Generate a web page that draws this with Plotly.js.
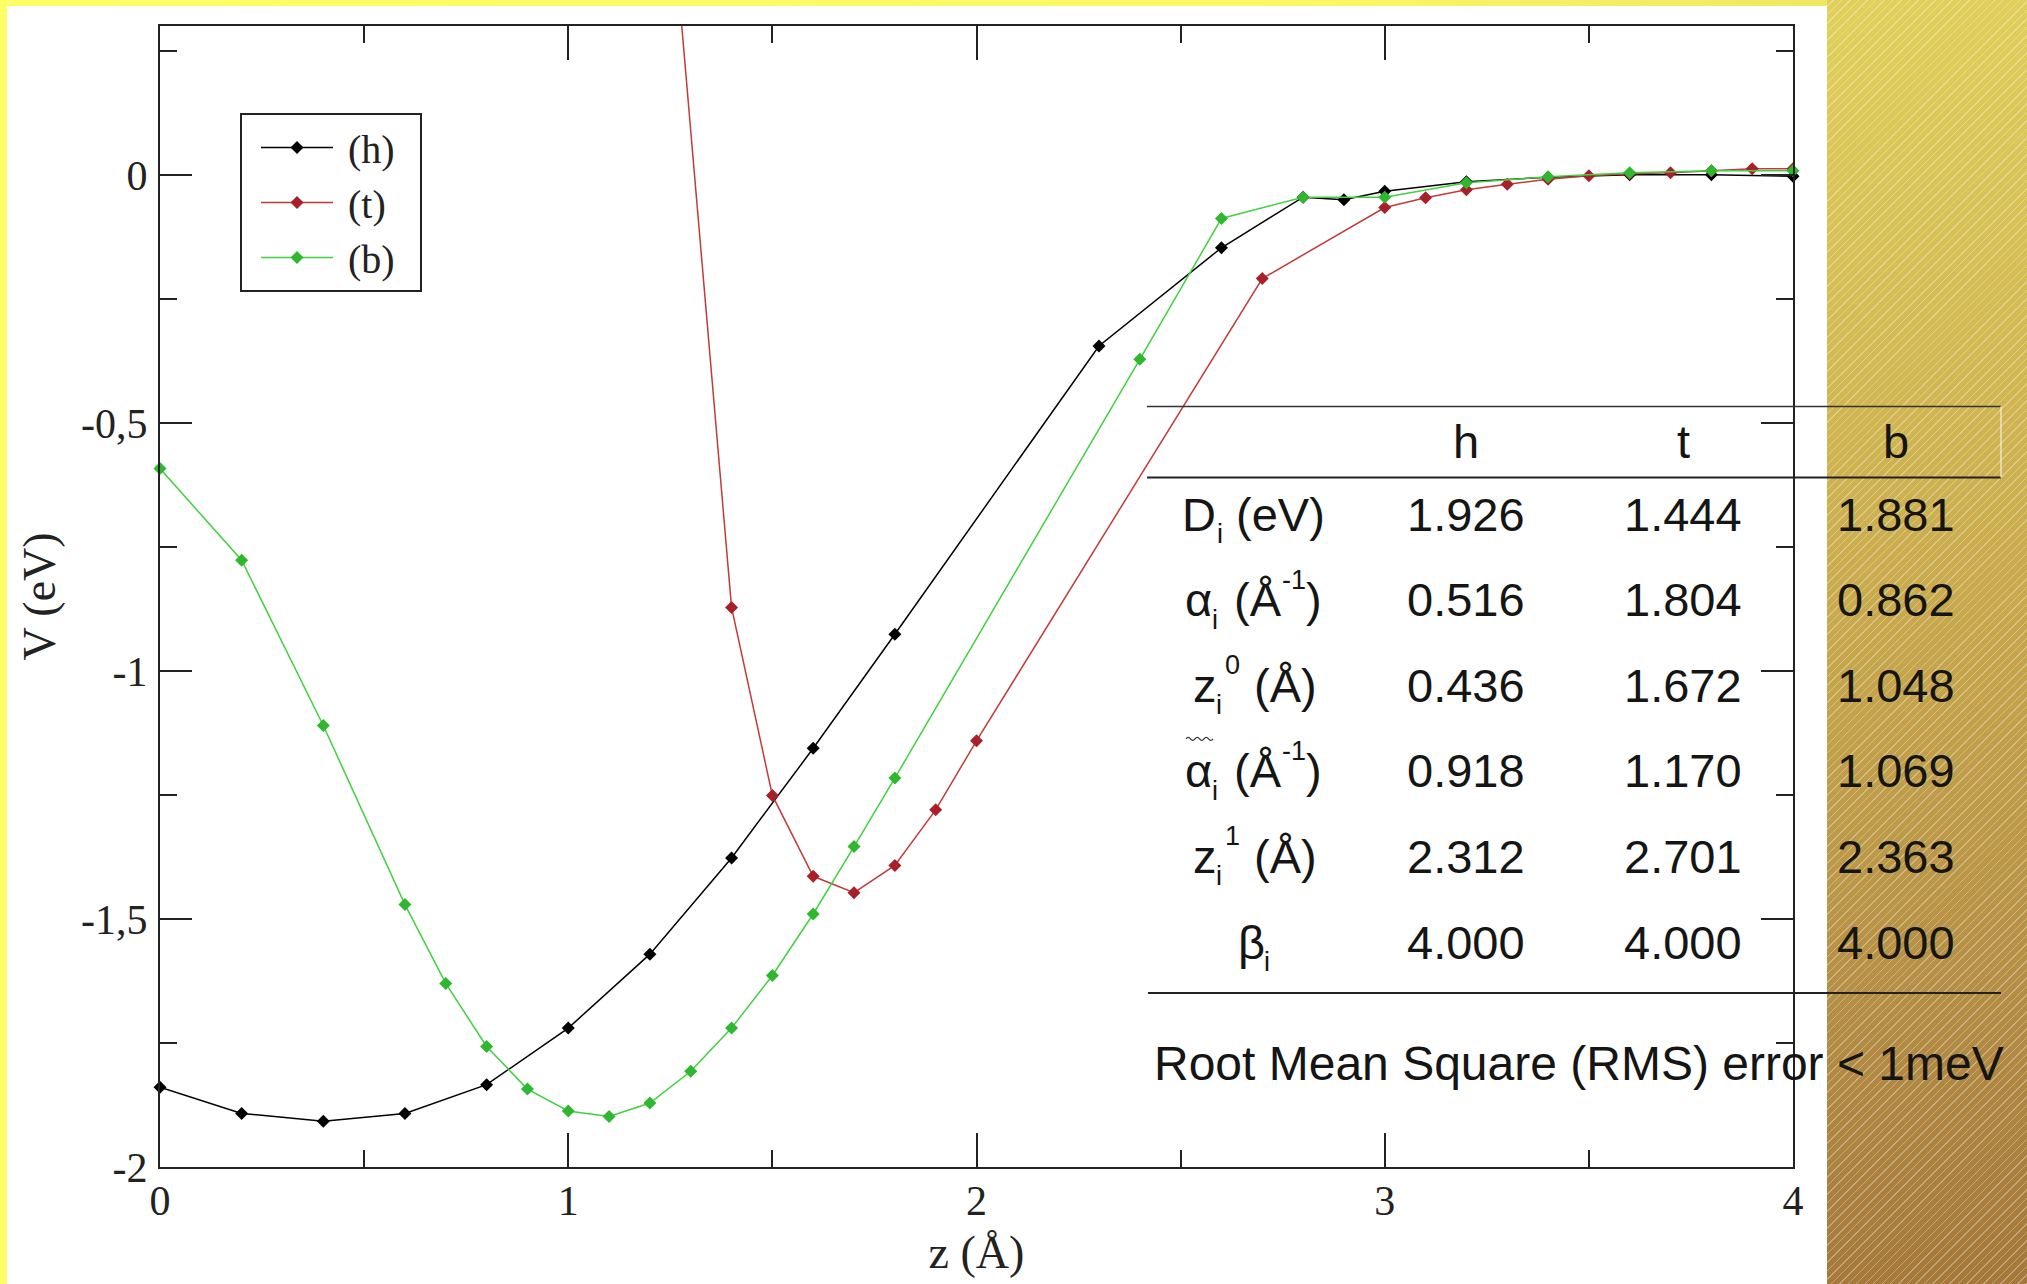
<!DOCTYPE html>
<html>
<head>
<meta charset="utf-8">
<script src="https://cdn.plot.ly/plotly-3.0.1.min.js"></script>
<style>
  html, body { margin:0; padding:0; }
  body {
    width:2027px; height:1284px; overflow:hidden; position:relative;
    background:
      repeating-linear-gradient(135deg, rgba(255,255,255,0.32) 0px, rgba(255,255,255,0.32) 1px, rgba(255,255,255,0) 1px, rgba(255,255,255,0) 6px),
      linear-gradient(172deg, #ebe162 0%, #dcc859 25%, #c9aa4d 55%, #b58f45 80%, #a5773a 100%);
  }
  #yellow { position:absolute; left:0; top:0; width:1827px; height:1284px;
            background:linear-gradient(to right, #ffff66 0%, #fbf866 70%, #f0e762 100%); }
  #white  { position:absolute; left:7px; top:6px; width:1820px; height:1278px; background:#ffffff; }
  #chart  { position:absolute; left:0; top:0; width:2027px; height:1284px; }
</style>
</head>
<body>
<div id="yellow"></div>
<div id="white"></div>
<div id="chart"></div>
<script>
// ---------- data ----------
const seriesNames = ['\u00a0(h)\u00a0\u00a0', '\u00a0(t)\u00a0\u00a0', '\u00a0(b)\u00a0\u00a0'];

const zH = [0, 0.2, 0.4, 0.6, 0.8, 1.0, 1.2, 1.4, 1.6, 1.8, 2.3, 2.6, 2.8, 2.9, 3.0, 3.2, 3.4, 3.6, 3.8, 4.0];
const vH = [-1.839, -1.892, -1.908, -1.892, -1.834, -1.720, -1.571, -1.377, -1.156, -0.926, -0.345, -0.147, -0.045, -0.050, -0.033, -0.014, -0.005, 0.000, 0.000, -0.003];

const zT = [1.2, 1.4, 1.5, 1.6, 1.7, 1.8, 1.9, 2.0, 2.7, 3.0, 3.1, 3.2, 3.3, 3.4, 3.5, 3.6, 3.7, 3.8, 3.9, 4.0];
const vT = [1.05, -0.872, -1.251, -1.414, -1.447, -1.392, -1.280, -1.141, -0.209, -0.066, -0.046, -0.030, -0.019, -0.009, -0.002, 0.002, 0.004, 0.008, 0.012, 0.012];

const zB = [0, 0.2, 0.4, 0.6, 0.7, 0.8, 0.9, 1.0, 1.1, 1.2, 1.3, 1.4, 1.5, 1.6, 1.7, 1.8, 2.4, 2.6, 2.8, 3.0, 3.2, 3.4, 3.6, 3.8, 4.0];
const vB = [-0.592, -0.777, -1.110, -1.471, -1.630, -1.757, -1.843, -1.887, -1.898, -1.871, -1.807, -1.720, -1.614, -1.490, -1.354, -1.216, -0.372, -0.088, -0.045, -0.045, -0.016, -0.004, 0.004, 0.008, 0.008];

const yTickVals = [0, -0.5, -1, -1.5, -2];
const yTickText = ['0', '-0,5', '-1', '-1,5', '-2'];
const xTickVals = [0, 1, 2, 3, 4];
const xTickText = ['0', '1', '2', '3', '4'];

// parameter table
const colHeads = ['h', 't', 'b'];
const labelParts = [
  {base:'D', sub:'i', tail:'(eV)'},
  {base:'α', sub:'i', tail:'(Å', tailSup:'-1', tailEnd:')'},
  {base:'z', sub:'i', sup:'0', tail:'(Å)'},
  {base:'α', sub:'i', tilde:true, tail:'(Å', tailSup:'-1', tailEnd:')'},
  {base:'z', sub:'i', sup:'1', tail:'(Å)'},
  {base:'β', sub:'i'}
];
const valH = ['1.926', '0.516', '0.436', '0.918', '2.312', '4.000'];
const valT = ['1.444', '1.804', '1.672', '1.170', '2.701', '4.000'];
const valB = ['1.881', '0.862', '1.048', '1.069', '2.363', '4.000'];
const footNote = 'Root Mean Square (RMS) error &lt; 1meV';

// ---------- layout helpers ----------
const W = 2027, H = 1284;
const M = {l:160, r:234, t:26, b:117};
const PW = W - M.l - M.r, PH = H - M.t - M.b;
const px = x => (x - M.l) / PW;
const py = y => 1 - (y - M.t) / PH;

const lineColors = ['#000000', '#c43a3a', '#3fd23f'];
const markColors = ['#000000', '#a8202a', '#2fb82f'];

function tr(x, y, i, clip) {
  return {
    x: x, y: y, name: seriesNames[i], type: 'scatter', mode: 'lines+markers',
    line: {color: lineColors[i], width: 1.5},
    marker: {symbol: 'diamond', size: 10, color: markColors[i]},
    cliponaxis: clip, legendgroup: 'g' + i
  };
}
const data = [tr(zH, vH, 0, false), tr(zT, vT, 1, true), tr(zB, vB, 2, false)];

const SANS = 'Liberation Sans, Arial, sans-serif';
const tfont = {family: SANS, size: 47, color: '#151515'};
const sfont = {family: SANS, size: 27, color: '#151515'};
const annotations = [];
function ann(x, y, text, font, xanchor) {
  annotations.push({xref:'paper', yref:'paper', x:px(x), y:py(y), text:text, showarrow:false,
    xanchor:xanchor || 'center', yanchor:'middle', font:font, borderpad:0});
}
const colX = [1466, 1683, 1896];
const headY = 441;
const rowY = [514, 599.6, 685.2, 770.8, 856.4, 942];
colHeads.forEach((h, j) => ann(colX[j], headY, h, tfont));

function hline(x0, x1, y, w, c) {
  return {type:'line', xref:'paper', yref:'paper', x0:px(x0), x1:px(x1), y0:py(y), y1:py(y),
          line:{color:c, width:w}, layer:'above'};
}
const shapes = [
  hline(1147, 2001, 406.5, 1.5, '#333'),
  hline(1147, 2001, 477.5, 2, '#222'),
  hline(1148, 2001, 993, 2, '#222'),
  {type:'line', xref:'paper', yref:'paper', x0:px(2001), x1:px(2001), y0:py(406.5), y1:py(477.5),
   line:{color:'rgba(245,240,220,0.8)', width:1.5}, layer:'above'}
];

// wavy accent drawn as a small path above the alpha
function wavy(x0, x1, y, amp, halves) {
  const step = (x1 - x0) / halves;
  let d = 'M' + px(x0) + ',' + py(y);
  for (let k = 0; k < halves; k++) {
    const xa = x0 + step * (k + 0.5), xb = x0 + step * (k + 1);
    const ya = y + (k % 2 === 0 ? -amp : amp);
    d += ' Q' + px(xa) + ',' + py(ya) + ' ' + px(xb) + ',' + py(y);
  }
  return {type:'path', xref:'paper', yref:'paper', path:d, line:{color:'#333', width:1.2}, layer:'above'};
}

// horizontal placement of label pieces (px, left edges)
const labelPos = [
  {base:1181, sub:1216, tail:1235},
  {base:1184, sub:1211, tail:1233},
  {base:1192, sub:1215, sup:1224, tail:1253},
  {base:1184, sub:1211, tail:1233},
  {base:1192, sub:1215, sup:1224, tail:1253},
  {base:1237, sub:1263}
];
const cols = [valH, valT, valB];
labelParts.forEach((p, i) => {
  const q = labelPos[i], y = rowY[i];
  ann(q.base, y, p.base, tfont, 'left');
  ann(q.sub, y + 20, p.sub, sfont, 'left');
  if (p.sup) ann(q.sup, y - 20, p.sup, sfont, 'left');
  if (p.tilde) shapes.push(wavy(q.base + 2, q.base + 29, y - 32, 3, 6));
  if (p.tail) ann(q.tail, y, p.tail, tfont, 'left');
  if (p.tailSup) ann(q.tail + 47.5, y - 20, p.tailSup, sfont, 'left');
  if (p.tailEnd) ann(q.tail + 72, y, p.tailEnd, tfont, 'left');
  cols.forEach((c, j) => ann(colX[j], y, c[i], tfont));
});
ann(1579, 1063, footNote, {family: SANS, size: 48, color: '#151515'});

const serif = 'Liberation Serif, Times New Roman, serif';
const axCommon = {
  showgrid:false, zeroline:false, showline:true, linecolor:'#222', linewidth:2,
  ticks:'inside', tickwidth:2, tickcolor:'#222', mirror:'ticks',
  tickfont:{family:serif, size:42, color:'#222'}, automargin:false
};

const layout = {
  width:W, height:H, margin:{l:M.l, r:M.r, t:M.t, b:M.b, pad:0},
  paper_bgcolor:'rgba(0,0,0,0)', plot_bgcolor:'#ffffff',
  showlegend:true,
  legend:{x:px(240), y:py(113), xanchor:'left', yanchor:'top',
          bgcolor:'#ffffff', bordercolor:'#222', borderwidth:2, indentation:14,
          font:{family:serif, size:40, color:'#222'}, tracegroupgap:0, itemwidth:72},
  xaxis: Object.assign({}, axCommon, {
    range:[0, 4], tickmode:'array', tickvals:xTickVals, ticktext:xTickText, ticklen:34,
    minor:{tickmode:'linear', tick0:0, dtick:0.5, ticks:'inside', ticklen:17, tickwidth:2, tickcolor:'#222'},
    ticklabelstandoff:-4,
    title:{text:'z (Å)', font:{family:serif, size:46, color:'#222'}, standoff:12}
  }),
  yaxis: Object.assign({}, axCommon, {
    range:[-2, 0.3], tickmode:'array', tickvals:yTickVals, ticktext:yTickText, ticklen:32,
    minor:{tickmode:'linear', tick0:0, dtick:0.25, ticks:'inside', ticklen:17, tickwidth:2, tickcolor:'#222'},
    ticklabelstandoff:2,
    title:{text:'V (eV)', font:{family:serif, size:46, color:'#222'}, standoff:11}
  }),
  annotations: annotations,
  shapes: shapes
};

Plotly.newPlot('chart', data, layout, {staticPlot:true, displayModeBar:false});
</script>
</body>
</html>
